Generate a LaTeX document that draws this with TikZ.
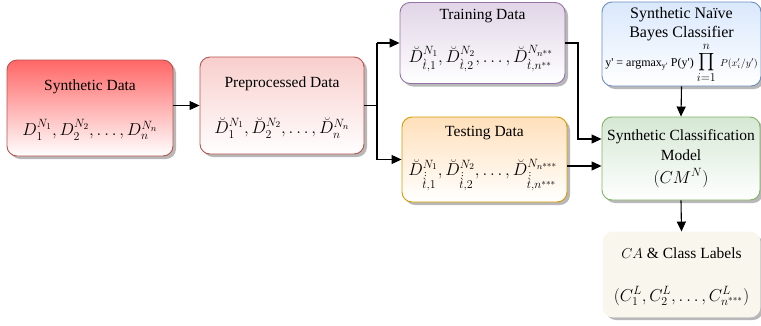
\documentclass[tikz,border=0pt]{standalone}
\usepackage{amsmath}
\usepackage{fontspec}
\setmainfont{Liberation Serif}
\usetikzlibrary{shadows,arrows.meta}
\definecolor{redtop}{HTML}{FF6666}
\definecolor{redline}{HTML}{B85450}
\definecolor{pinktop}{HTML}{F8CECC}
\definecolor{purptop}{HTML}{E1D5E7}
\definecolor{purpline}{HTML}{9673A6}
\definecolor{orgtop}{HTML}{FFE0BB}
\definecolor{orgline}{HTML}{D79B00}
\definecolor{bluetop}{HTML}{DAE8FC}
\definecolor{blueline}{HTML}{6C8EBF}
\definecolor{greentop}{HTML}{D5E8D4}
\definecolor{greenline}{HTML}{82B366}
\definecolor{beige}{HTML}{F9F7ED}
\newcommand{\mth}{\fontsize{18}{20}\selectfont}
\newcommand{\tacc}{\dot{\dot{\grave{t}}}}
\tikzset{
  box/.style={draw, rounded corners=10pt, line width=0.9pt, inner sep=0pt,
    drop shadow={shadow xshift=3pt, shadow yshift=-3pt, fill=black!28, opacity=1}},
  lbl/.style={inner sep=0pt, anchor=center, align=center},
  ttl/.style={lbl, font=\fontsize{15.5}{18.5}\selectfont},
  arr/.style={draw, line width=1.1pt, -{Triangle[length=10pt,width=9pt]}},
  ln/.style={draw, line width=1.1pt}
}
\begin{document}
\begin{tikzpicture}[x=1pt,y=-1pt]
\useasboundingbox (0,0) rectangle (761,325);
% boxes
\node[box, draw=redline, top color=redtop, bottom color=white, minimum width=166pt, minimum height=96pt] (syn) at (90,108) {};
\node[box, draw=redline, top color=pinktop, bottom color=white, minimum width=164pt, minimum height=97pt] (pre) at (282,105.5) {};
\node[box, draw=purpline, top color=purptop, bottom color=white, minimum width=165pt, minimum height=81pt] (train) at (482.5,43) {};
\node[box, draw=orgline, top color=orgtop, bottom color=white, minimum width=165pt, minimum height=85pt] (test) at (484.5,159.5) {};
\node[box, draw=blueline, top color=bluetop, bottom color=white, minimum width=159pt, minimum height=84pt] (nb) at (681.5,44) {};
\node[box, draw=greenline, top color=greentop, bottom color=white, minimum width=158pt, minimum height=83pt] (cm) at (681,158.5) {};
\node[box, draw=beige, fill=beige, minimum width=157pt, minimum height=85pt] (lab) at (681.5,274.5) {};
% texts
\node[ttl] (synt) at (90,87) {Synthetic Data};
\node[lbl] (synm) at (90,130) {\mth $D_1^{N_1}, D_2^{N_2}, \ldots, D_n^{N_n}$};
\node[ttl] (pret) at (282,84) {Preprocessed Data};
\node[lbl] (prem) at (282,128) {\mth $\breve{D}_1^{N_1}, \breve{D}_2^{N_2}, \ldots, \breve{D}_n^{N_n}$};
\node[ttl] (traint) at (482.5,16) {Training Data};
\node[lbl] (trainm) at (481,59) {\mth $\breve{D}^{N_1}_{\grave{t},1}, \breve{D}^{N_2}_{\grave{t},2}, \ldots, \breve{D}^{N_{n^{**}}}_{\grave{t},n^{**}}$};
\node[ttl] (testt) at (484.5,133) {Testing Data};
\node[lbl] (testm) at (483,175) {\mth $\breve{D}^{N_1}_{\tacc,1}, \breve{D}^{N_2}_{\tacc,2}, \ldots, \breve{D}^{N_{n^{***}}}_{\tacc,n^{***}}$};
\node[lbl, font=\fontsize{16}{18.5}\selectfont] (nbt) at (681.5,24) {Synthetic Na\"ive\\Bayes Classifier};
\node[lbl] (nbm) at (681.5,63) {\fontsize{12}{14}\selectfont y\textquotesingle{} = argmax$_{\text{y\textquotesingle}}$ P(y\textquotesingle) \fontsize{17}{19}\selectfont$\prod\limits_{i=1}^{n}$ {\fontsize{10}{12}\selectfont$P(x'_i/y')$}};
\node[ttl] (cmt) at (681,145) {Synthetic Classification\\[1pt]Model};
\node[lbl] (cmm) at (681,178) {\mth $(CM^N)$};
\node[ttl] (labt) at (681.5,253) {$CA$ \& Class Labels};
\node[lbl] (labm) at (681.5,296) {\mth $(C_1^L, C_2^L, \ldots, C_{n^{***}}^L)$};
% connectors
\coordinate (j) at (377,105.5);
\coordinate (k1) at (578,139);
\coordinate (k2) at (0,166);
\draw[arr] (syn.east |- pre.west) -- (pre.west);
\draw[ln] (pre.east) -- (j);
\draw[arr] (j |- train.west) -- (train.west);
\draw[arr] (j |- test.west) -- (test.west);
\draw[ln] (j |- train.west) -- (j |- test.west);
\draw[arr] (train.east) -| (k1) -- (cm.west |- k1);
\draw[arr] (test.east |- k2) -- (cm.west |- k2);
\draw[arr] (nb.south) -- (cm.north);
\draw[arr] (cm.south) -- (lab.north);
\end{tikzpicture}
\end{document}
